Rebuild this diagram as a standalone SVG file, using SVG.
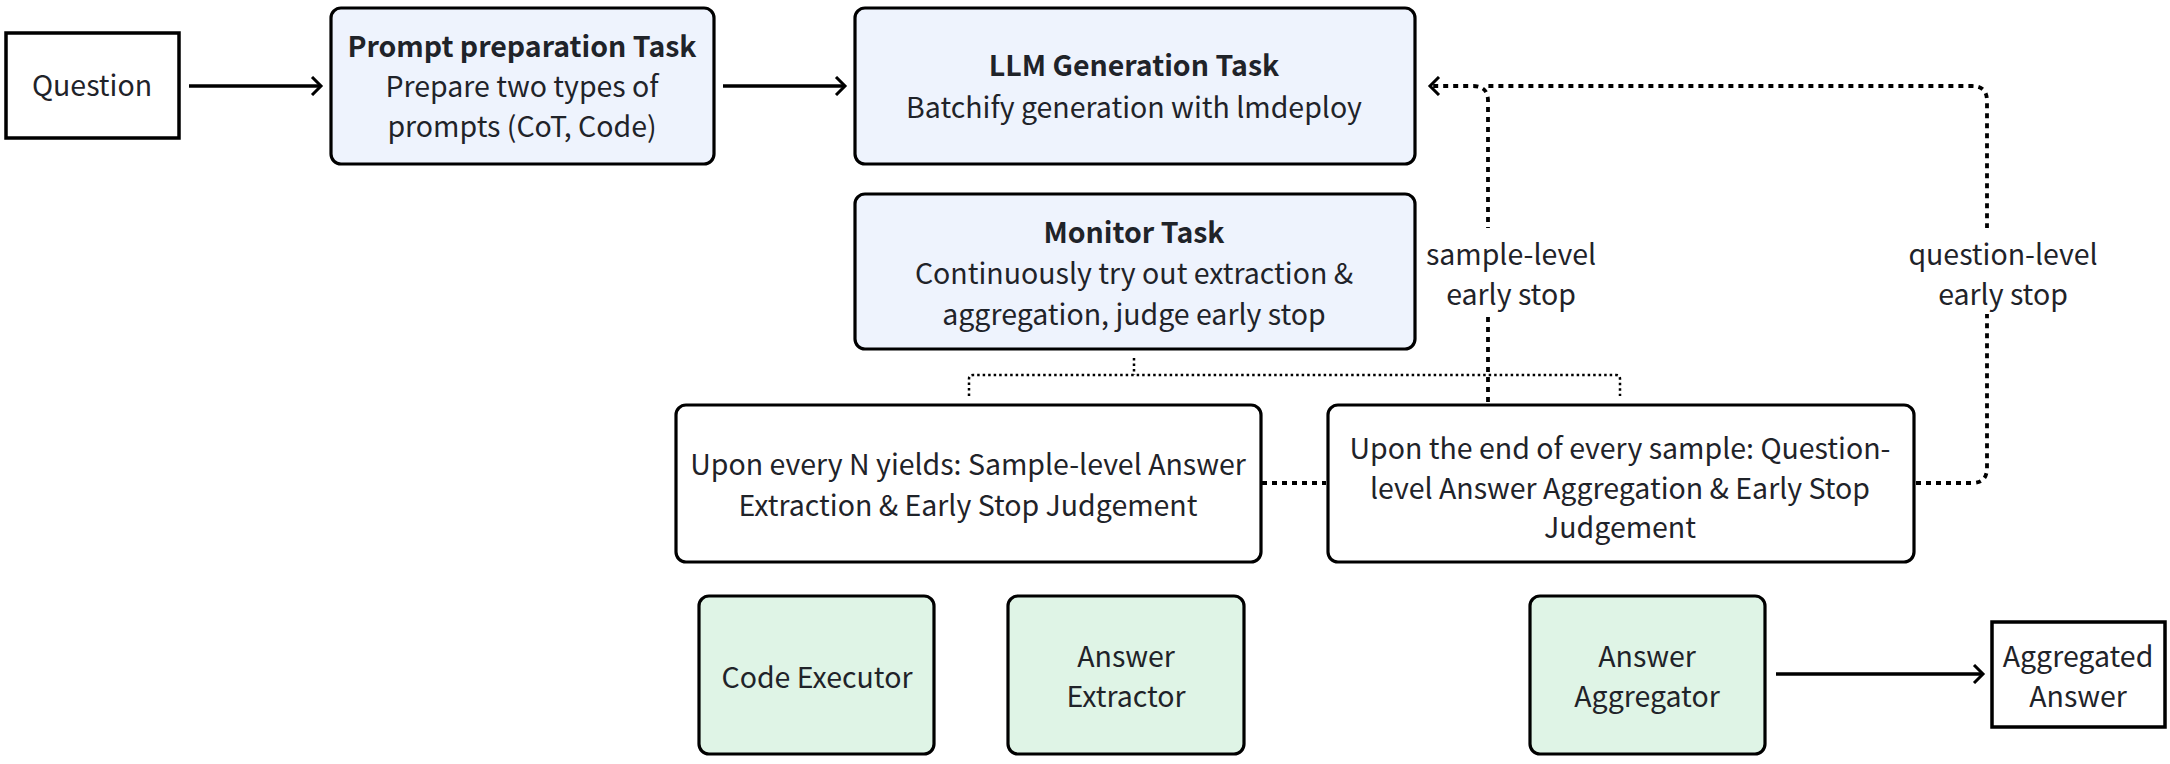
<svg xmlns="http://www.w3.org/2000/svg" width="2170" height="764" viewBox="0 0 2170 764">
<defs>
<style>
text{font-family:"Noto Sans CJK SC","Noto Sans",sans-serif;font-size:28.5px;fill:#1f2329;text-anchor:middle}
.b{font-weight:bold}
.plain{fill:#fff;stroke:#000;stroke-width:3.5}
.task{fill:#eef3fd;stroke:#000;stroke-width:3.2}
.tool{fill:#dff4e6;stroke:#000;stroke-width:3.2}
.cond{fill:#fff;stroke:#000;stroke-width:3.2}
.arrow{fill:none;stroke:#000;stroke-width:3.5}
.dot{fill:none;stroke:#000;stroke-width:3.8;stroke-dasharray:5 5}
.fine{fill:none;stroke:#000;stroke-width:2.5;stroke-dasharray:2.5 3}
.bg{fill:#fff;stroke:none}
</style>
<marker id="ah" markerWidth="14" markerHeight="20" refX="11" refY="10" orient="auto" markerUnits="userSpaceOnUse">
<path d="M2,1 L11,10 L2,19" fill="none" stroke="#000" stroke-width="3"/>
</marker>
</defs>
<g id="connectors">
<line class="arrow" x1="189" y1="86" x2="321" y2="86" marker-end="url(#ah)"/>
<line class="arrow" x1="723" y1="86" x2="845" y2="86" marker-end="url(#ah)"/>
<line class="arrow" x1="1776" y1="674" x2="1983" y2="674" marker-end="url(#ah)"/>
<path class="dot" d="M1488,402 V101 Q1488,86 1473,86 H1430" marker-end="url(#ah)"/>
<path class="dot" d="M1916,483 H1972 Q1987,483 1987,468 V101 Q1987,86 1972,86 H1488"/>
<line class="dot" x1="1262" y1="483" x2="1326" y2="483"/>
<path class="fine" d="M1134,358 V375 M969,396 V379 Q969,375 973,375 H1616 Q1620,375 1620,379 V396"/>
</g>
<g id="question"><rect class="plain" x="6" y="33" width="173" height="105"/><text x="92" y="96">Question</text></g>
<g id="prompt"><rect class="task" x="331" y="8" width="383" height="156" rx="10"/>
<text x="522" y="57" class="b">Prompt preparation Task</text><text x="522" y="97">Prepare two types of</text><text x="522" y="137">prompts (CoT, Code)</text></g>
<g id="llm"><rect class="task" x="855" y="8" width="560" height="156" rx="10"/>
<text x="1134" y="76" class="b">LLM Generation Task</text><text x="1134" y="118">Batchify generation with lmdeploy</text></g>
<g id="monitor"><rect class="task" x="855" y="194" width="560" height="155" rx="10"/>
<text x="1134" y="243" class="b">Monitor Task</text><text x="1134" y="284">Continuously try out extraction &amp;</text><text x="1134" y="325">aggregation, judge early stop</text></g>
<g id="sample-label"><rect class="bg" x="1424" y="228" width="174" height="86"/><text x="1511" y="265">sample-level</text><text x="1511" y="305">early stop</text></g>
<g id="question-label"><rect class="bg" x="1908" y="228" width="190" height="86"/><text x="2003" y="265">question-level</text><text x="2003" y="305">early stop</text></g>
<g id="sample-judge"><rect class="cond" x="676" y="405" width="585" height="157" rx="10"/>
<text x="968" y="475">Upon every N yields: Sample-level Answer</text><text x="968" y="516">Extraction &amp; Early Stop Judgement</text></g>
<g id="question-judge"><rect class="cond" x="1328" y="405" width="586" height="157" rx="10"/>
<text x="1620" y="459">Upon the end of every sample: Question-</text><text x="1620" y="499">level Answer Aggregation &amp; Early Stop</text><text x="1620" y="538">Judgement</text></g>
<g id="code-executor"><rect class="tool" x="699" y="596" width="235" height="158" rx="10"/><text x="817" y="688">Code Executor</text></g>
<g id="answer-extractor"><rect class="tool" x="1008" y="596" width="236" height="158" rx="10"/><text x="1126" y="667">Answer</text><text x="1126" y="707">Extractor</text></g>
<g id="answer-aggregator"><rect class="tool" x="1530" y="596" width="235" height="158" rx="10"/><text x="1647" y="667">Answer</text><text x="1647" y="707">Aggregator</text></g>
<g id="aggregated-answer"><rect class="plain" x="1992" y="622" width="173" height="105"/><text x="2078" y="667">Aggregated</text><text x="2078" y="707">Answer</text></g>
</svg>
